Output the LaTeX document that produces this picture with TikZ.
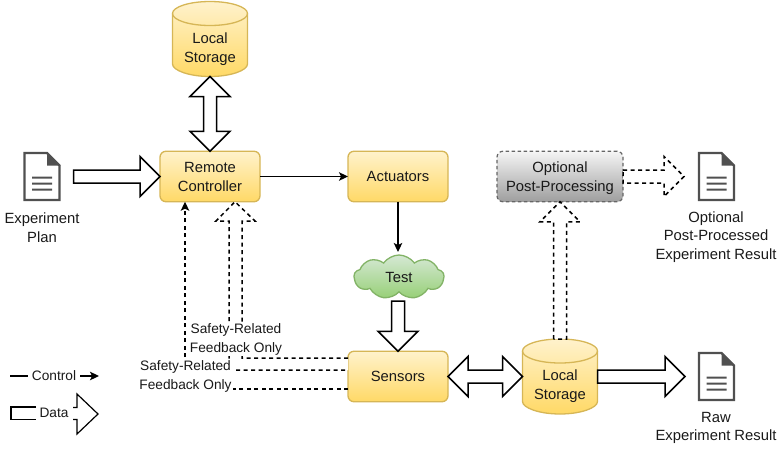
\documentclass[tikz,border=0pt]{standalone}
\usepackage{fontspec}
\setmainfont{Liberation Sans}
\usetikzlibrary{calc,arrows.meta,shapes.symbols}
\definecolor{ylwtop}{HTML}{FFF2CC}
\definecolor{ylwbot}{HTML}{FFD966}
\definecolor{ylwline}{HTML}{D6B656}
\definecolor{grntop}{HTML}{D5E8D4}
\definecolor{grnbot}{HTML}{97D077}
\definecolor{grnline}{HTML}{82B366}
\definecolor{doccol}{HTML}{505050}
\tikzset{
  txt/.style={font=\fontsize{14.8}{18.8}\selectfont,align=center,inner sep=0pt,text=black!90},
  smalltxt/.style={txt,font=\fontsize{13.7}{18.2}\selectfont},
  boxyellow/.style={txt,draw=ylwline,line width=1.3pt,rounded corners=6pt,top color=ylwtop,bottom color=ylwbot,minimum width=100pt,minimum height=50.5pt,outer sep=0pt},
  boxgray/.style={txt,draw=black!60,line width=1.2pt,dash pattern=on 3.5pt off 2.5pt,rounded corners=6pt,top color=black!4,bottom color=black!38,minimum width=126pt,minimum height=50.5pt,outer sep=0pt},
  cloudgreen/.style={txt,shape=cloud,cloud puffs=9,cloud puff arc=110,cloud ignores aspect,draw=grnline,line width=1.3pt,top color=grntop,bottom color=grnbot,minimum width=90pt,minimum height=44pt,outer sep=0pt},
  ghost/.style={inner sep=0pt,outer sep=0pt,minimum width=#1},
  fat/.style={draw=black,fill=white,line width=1.5pt,miter limit=10},
  fatdash/.style={fat,line width=1.5pt,dash pattern=on 4pt off 3.5pt},
  ctl/.style={draw=black,line width=1.4pt,-{Stealth[length=9pt,width=8.5pt,inset=2pt]}},
  ctldash/.style={ctl,dash pattern=on 4pt off 3.5pt},
  lab/.style={smalltxt,fill=white,inner sep=1pt},
  cylfill/.style={top color=ylwtop,bottom color=ylwbot},
  cylline/.style={draw=ylwline,line width=1.3pt}
}
% single block arrow from #2 to #3
\newcommand{\fatone}[3]{%
  \coordinate (fatS) at (#2);\coordinate (fatT) at (#3);
  \coordinate (fatN) at ($(fatT)!20pt!(fatS)$);
  \draw[#1] ($(fatS)!6.5pt!90:(fatT)$) -- ($(fatN)!6.5pt!90:(fatT)$) -- ($(fatN)!20pt!90:(fatT)$) -- (fatT)
    -- ($(fatN)!20pt!-90:(fatT)$) -- ($(fatN)!6.5pt!-90:(fatT)$) -- ($(fatS)!6.5pt!-90:(fatT)$) -- cycle;}
% double block arrow between #2 and #3
\newcommand{\fattwo}[3]{%
  \coordinate (fatS) at (#2);\coordinate (fatT) at (#3);
  \coordinate (fatN) at ($(fatT)!20pt!(fatS)$);\coordinate (fatM) at ($(fatS)!20pt!(fatT)$);
  \draw[#1] (fatS) -- ($(fatM)!20pt!-90:(fatS)$) -- ($(fatM)!6.5pt!-90:(fatS)$) -- ($(fatN)!6.5pt!90:(fatT)$) -- ($(fatN)!20pt!90:(fatT)$) -- (fatT)
    -- ($(fatN)!20pt!-90:(fatT)$) -- ($(fatN)!6.5pt!-90:(fatT)$) -- ($(fatM)!6.5pt!90:(fatS)$) -- ($(fatM)!20pt!90:(fatS)$) -- cycle;}
% storage cylinder: name, centre x, top y
\newcommand{\storage}[3]{%
  \path[cylfill] (#2-37.5,#3+12) .. controls (#2-37.5,#3+5.5) and (#2-20.5,#3) .. (#2,#3) .. controls (#2+20.5,#3) and (#2+37.5,#3+5.5) .. (#2+37.5,#3+12)
    -- (#2+37.5,#3+62.5) .. controls (#2+37.5,#3+69) and (#2+20.5,#3+75) .. (#2,#3+75) .. controls (#2-20.5,#3+75) and (#2-37.5,#3+69) .. (#2-37.5,#3+62.5) -- cycle;
  \draw[cylline] (#2-37.5,#3+12) -- (#2-37.5,#3+62.5) .. controls (#2-37.5,#3+69) and (#2-20.5,#3+75) .. (#2,#3+75) .. controls (#2+20.5,#3+75) and (#2+37.5,#3+69) .. (#2+37.5,#3+62.5) -- (#2+37.5,#3+12);
  \draw[cylline] (#2,#3+12) ellipse[x radius=37.5pt,y radius=12pt];
  \node[ghost=75pt,minimum height=75pt] (#1) at (#2,#3+37.5) {};
  \node[txt] (#1text) at (#2,#3+47.5) {Local\\Storage};}
% document icon: name, centre x, centre y
\newcommand{\docicon}[3]{%
  \node[ghost=37pt,minimum height=49pt] (#1) at (#2,#3) {};
  \draw[doccol,line width=2.4pt,miter limit=4] (#2-17.5,#3-23.5) -- (#2+5,#3-23.5) -- (#2+17.5,#3-11) -- (#2+17.5,#3+23.5) -- (#2-17.5,#3+23.5) -- cycle;
  \fill[doccol] (#2+5,#3-24.5) -- (#2+18.5,#3-11) -- (#2+5,#3-11) -- cycle;
  \fill[doccol] (#2-10,#3) rectangle (#2+10,#3+2) (#2-10,#3+6) rectangle (#2+10,#3+8) (#2-10,#3+12) rectangle (#2+10,#3+14);}
\begin{document}
\begin{tikzpicture}[x=1pt,y=-1pt]
\useasboundingbox (0,0) rectangle (780,451);
\node[boxyellow] (remote) at (210,176.5) {\rule{0pt}{11.5pt}Remote\\Controller};
\node[boxyellow] (act) at (398,176.5) {Actuators};
\node[boxyellow] (sensors) at (398,376.5) {Sensors};
\node[boxgray] (post) at (560,176.5) {\rule{0pt}{13.5pt}Optional\\Post-Processing};
\node[cloudgreen] (test) at (399,277) {Test};
\storage{storeA}{210}{1.5}
\storage{storeB}{560}{339}
\docicon{plan}{42}{176.5}
\docicon{optdoc}{716.5}{176.5}
\docicon{rawdoc}{716.5}{376.5}
\node[txt] (plantext) at (42,227.5) {Experiment\\Plan};
\node[txt] (opttext) at (716,237) {Optional\\Post-Processed\\Experiment Result};
\node[txt] (rawtext) at (716,428) {Raw\\Experiment Result};
% control
\draw[ctl] (remote.east) -- (act.west);
\draw[ctl] (act.south) -- (398,252);
% data
\coordinate (planout) at ($(plan.east)+(13,0)$);
\fatone{fat}{planout}{remote.west}
\fattwo{fat}{storeA.south}{remote.north}
\fatone{fat}{398,301}{sensors.north}
\fattwo{fat}{sensors.east}{storeB.west}
\coordinate (rawin) at ($(rawdoc.west)+(-13,0)$);
\fatone{fat}{storeB.east}{rawin}
\coordinate (optin) at ($(optdoc.west)+(-14,0)$);
\fatone{fatdash}{post.east}{optin}
\fatone{fatdash}{storeB.north}{post.south}
% safety feedback
\coordinate (fbA) at ($(sensors.west)+(0,12.5)$);
\coordinate (fbB) at ($(remote.south)+(-25,0)$);
\draw[ctldash] (fbA) -| (fbB);
\coordinate (fcA) at ($(sensors.west)+(0,-18.5)$);
\coordinate (fcB) at ($(sensors.west)+(0,-6.5)$);
\coordinate (fcT) at ($(remote.south)+(25,0)$);
\draw[fatdash] (fcA) -- (242,358) -- (242,221) -- (255,221) -- (fcT) -- (216,221) -- (229,221) -- (229,370) -- (fcB);
\node[lab] (sfA) at (236,339.5) {Safety-Related\\Feedback Only};
\node[lab] (sfB) at (185.5,376.5) {Safety-Related\\Feedback Only};
% legend
\node[smalltxt] (lgc) at (54,376) {Control};
\node[smalltxt] (lgd) at (54,413) {Data};
\coordinate (lgcA) at (10,376);
\coordinate (lgcB) at (99,376);
\coordinate (lgcC) at (28,376);
\coordinate (lgcD) at (80,376);
\draw[draw=black,line width=1.2pt] (lgcA) -- (lgcC);
\draw[ctl] (lgcD) -- (lgcB);
\draw[fat,fill=none,line width=1.2pt] (36,407) -- (11,407) -- (11,419.5) -- (36,419.5);
\draw[fat,fill=none,line width=1.2pt] (73,407.5) -- (77,407.5) -- (77,394) -- (98,414) -- (77,434) -- (77,419.5) -- (73,419.5);
\end{tikzpicture}
\end{document}
